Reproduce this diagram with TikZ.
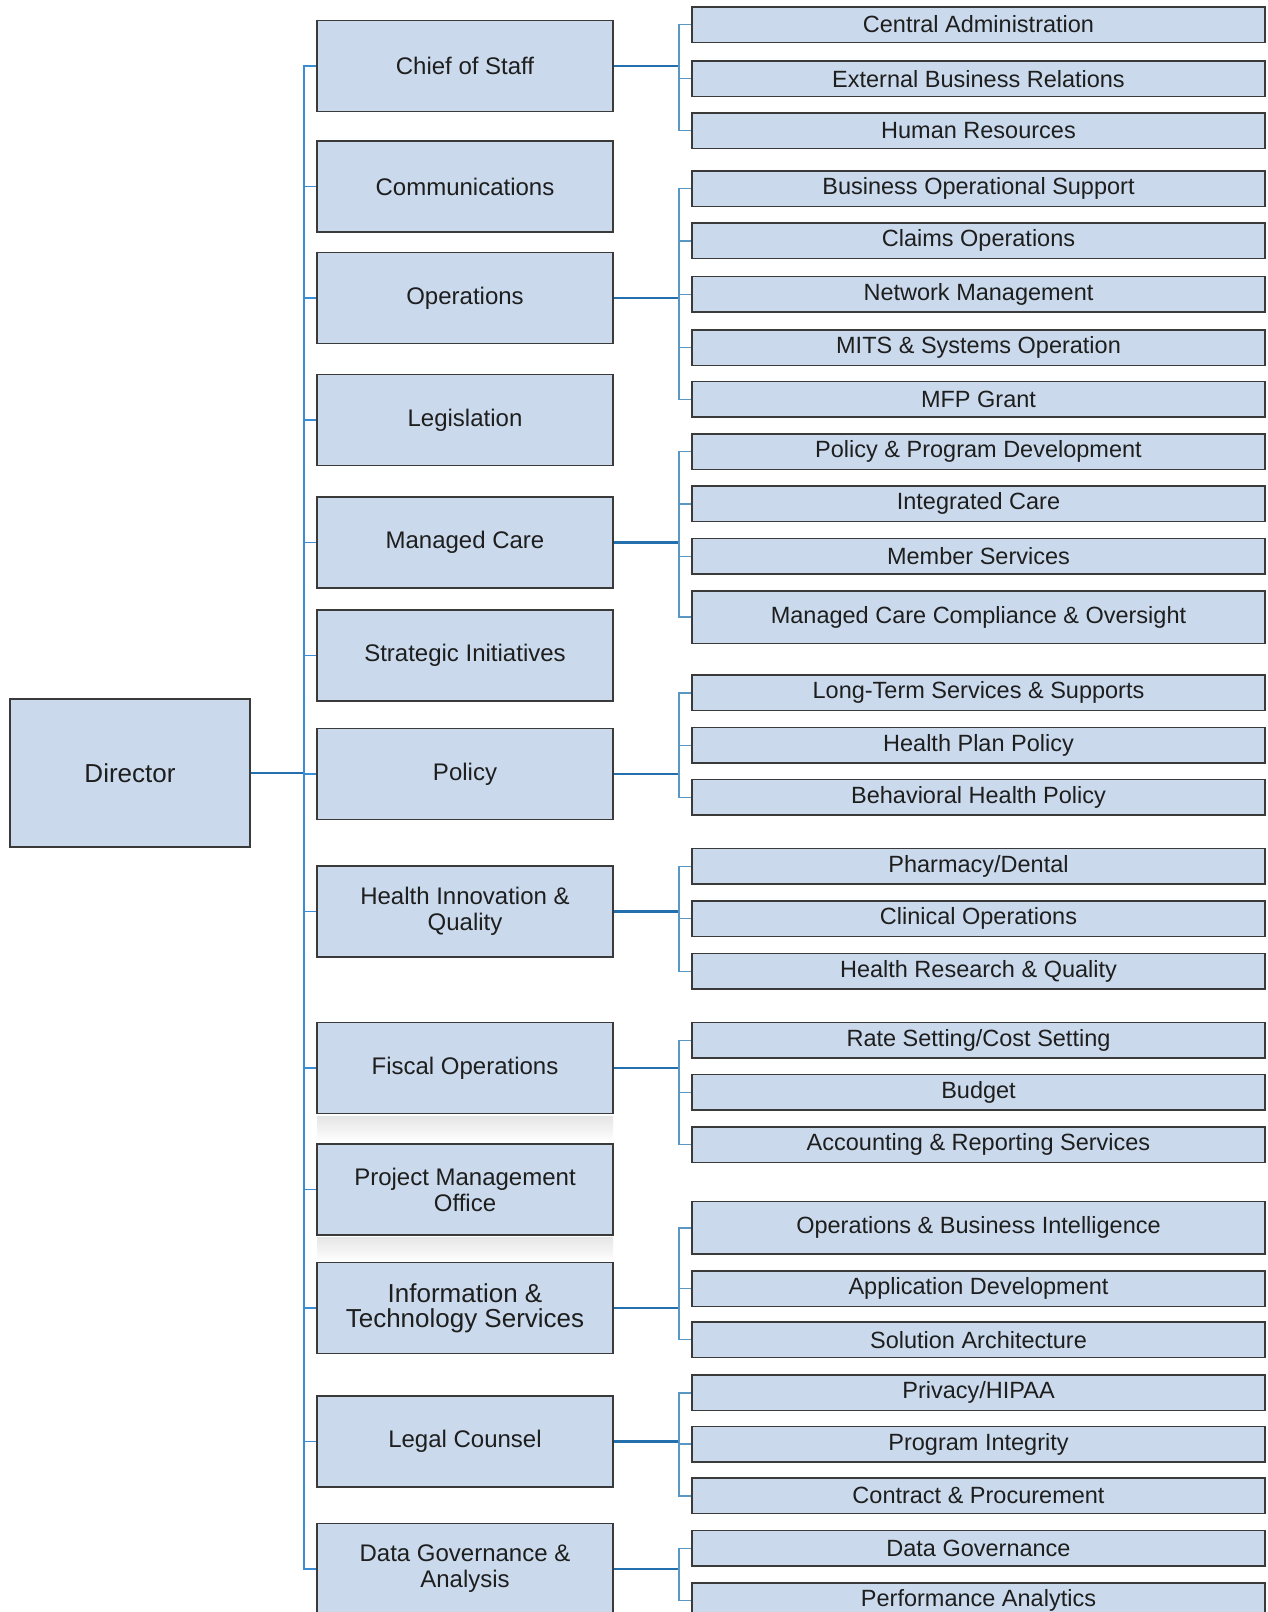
\documentclass[tikz,border=0pt]{standalone}
\usepackage{fontspec}
\setmainfont{Liberation Sans}
\usepackage{xcolor}
\usepackage{tikz}

\definecolor{boxfill}{HTML}{CADAEC}
\definecolor{boxline}{HTML}{3A3A3A}
\definecolor{boxtext}{HTML}{1E1E1E}
\definecolor{linkmain}{HTML}{2470AE}
\definecolor{linkspine}{HTML}{3A8DD3}
\definecolor{linksub}{HTML}{5B97C4}

\begin{document}
\begin{tikzpicture}[
    x=1pt, y=-1pt,
    head_box/.style={draw=boxline, fill=boxfill, line width=1.5pt, inner sep=0pt,
        minimum width=240pt, minimum height=148pt, text=boxtext,
        font=\fontsize{26}{30}\selectfont},
    unit_box/.style={draw=boxline, fill=boxfill, line width=1.5pt, inner sep=0pt,
        minimum width=296pt, minimum height=91pt, text=boxtext, align=center,
        font=\fontsize{24}{26}\selectfont},
    sub_box/.style={draw=boxline, fill=boxfill, line width=1.5pt, inner sep=0pt,
        minimum width=573pt, minimum height=35.5pt, text=boxtext,
        font=\fontsize{23.5}{26}\selectfont},
    main_link/.style={draw=linkmain, line width=2.2pt},
    spine_link/.style={draw=linkspine, line width=1.8pt},
    sub_link/.style={draw=linksub, line width=1.4pt}
]
    \useasboundingbox (0,0) rectangle (1267,1612);

    % faint shadows under the fiscal and project boxes
    \shade[top color=black!10, bottom color=white] (317,1116) rectangle (613,1142);
    \shade[top color=black!10, bottom color=white] (317,1237) rectangle (613,1262);

    % --- Nodes ---
    \node[head_box] (dir) at (130,773) {Director};

    % Units on the spine
    \node[unit_box] (chief) at (465,66) {Chief of Staff};
    \node[unit_box] (comms) at (465,186.5) {Communications};
    \node[unit_box] (ops) at (465,298) {Operations};
    \node[unit_box] (legis) at (465,420) {Legislation};
    \node[unit_box] (mcare) at (465,542.5) {Managed Care};
    \node[unit_box] (strat) at (465,655.5) {Strategic Initiatives};
    \node[unit_box] (policy) at (465,774) {Policy};
    \node[unit_box] (hiq) at (465,911.5) {Health Innovation \&\\Quality};
    \node[unit_box] (fiscal) at (465,1068) {Fiscal Operations};
    \node[unit_box] (pmo) at (465,1189.5) {Project Management\\Office};
    \node[unit_box, font=\fontsize{26}{25}\selectfont] (its) at (465,1308) {Information \&\\Technology Services};
    \node[unit_box] (legal) at (465,1441.5) {Legal Counsel};
    \node[unit_box] (dga) at (465,1569) {Data Governance \&\\Analysis};

    % Chief of Staff group
    \node[sub_box] (ca) at (978.5,24.5) {Central Administration};
    \node[sub_box] (ebr) at (978.5,78.7) {External Business Relations};
    \node[sub_box] (hr) at (978.5,130.5) {Human Resources};

    % Operations group
    \node[sub_box] (bos) at (978.5,188.7) {Business Operational Support};
    \node[sub_box] (claims) at (978.5,240.8) {Claims Operations};
    \node[sub_box] (netm) at (978.5,294.2) {Network Management};
    \node[sub_box] (mits) at (978.5,347.5) {MITS \& Systems Operation};
    \node[sub_box] (mfp) at (978.5,399.2) {MFP Grant};

    % Managed Care group
    \node[sub_box] (ppd) at (978.5,451.7) {Policy \& Program Development};
    \node[sub_box] (ic) at (978.5,503.9) {Integrated Care};
    \node[sub_box] (ms) at (978.5,556.3) {Member Services};
    \node[sub_box, minimum height=52.5pt] (mcco) at (978.5,617) {Managed Care Compliance \& Oversight};

    % Policy group
    \node[sub_box] (ltss) at (978.5,692.9) {Long-Term Services \& Supports};
    \node[sub_box] (hpp) at (978.5,745.4) {Health Plan Policy};
    \node[sub_box] (bhp) at (978.5,797.2) {Behavioral Health Policy};

    % Health Innovation group
    \node[sub_box] (pharm) at (978.5,866.2) {Pharmacy/Dental};
    \node[sub_box] (clin) at (978.5,918.7) {Clinical Operations};
    \node[sub_box] (hrq) at (978.5,971.2) {Health Research \& Quality};

    % Fiscal group
    \node[sub_box] (rate) at (978.5,1040.2) {Rate Setting/Cost Setting};
    \node[sub_box] (budget) at (978.5,1092.4) {Budget};
    \node[sub_box] (acct) at (978.5,1144.5) {Accounting \& Reporting Services};

    % IT group
    \node[sub_box, minimum height=52.5pt] (obi) at (978.5,1227.9) {Operations \& Business Intelligence};
    \node[sub_box] (appdev) at (978.5,1288.7) {Application Development};
    \node[sub_box] (sol) at (978.5,1339.7) {Solution Architecture};

    % Legal group
    \node[sub_box] (priv) at (978.5,1392.9) {Privacy/HIPAA};
    \node[sub_box] (pint) at (978.5,1444) {Program Integrity};
    \node[sub_box] (contr) at (978.5,1495.8) {Contract \& Procurement};

    % Data group
    \node[sub_box] (dgov) at (978.5,1548.4) {Data Governance};
    \node[sub_box] (perf) at (978.5,1600.5) {Performance Analytics};

    % --- Junction points ---
    \coordinate (hub) at (304,773);
    \coordinate (j_chief) at (679,66);
    \coordinate (j_ops) at (679,298);
    \coordinate (j_mcare) at (679,542.5);
    \coordinate (j_policy) at (679,774);
    \coordinate (j_hiq) at (679,911.5);
    \coordinate (j_fiscal) at (679,1068);
    \coordinate (j_its) at (679,1308);
    \coordinate (j_legal) at (679,1441.5);
    \coordinate (j_dga) at (679,1569);

    % --- Edges: Director to spine ---
    \draw[main_link] (dir) -- (hub);
    \draw[spine_link] (hub) |- (chief);
    \draw[spine_link] (hub) |- (comms);
    \draw[spine_link] (hub) |- (ops);
    \draw[spine_link] (hub) |- (legis);
    \draw[spine_link] (hub) |- (mcare);
    \draw[spine_link] (hub) |- (strat);
    \draw[spine_link] (hub) |- (policy);
    \draw[spine_link] (hub) |- (hiq);
    \draw[spine_link] (hub) |- (fiscal);
    \draw[spine_link] (hub) |- (pmo);
    \draw[spine_link] (hub) |- (its);
    \draw[spine_link] (hub) |- (legal);
    \draw[spine_link] (hub) |- (dga);

    % --- Edges: units to their sections ---
    \draw[main_link] (chief) -- (j_chief);
    \draw[sub_link] (j_chief) |- (ca);
    \draw[sub_link] (j_chief) |- (ebr);
    \draw[sub_link] (j_chief) |- (hr);

    \draw[main_link] (ops) -- (j_ops);
    \draw[sub_link] (j_ops) |- (bos);
    \draw[sub_link] (j_ops) |- (claims);
    \draw[sub_link] (j_ops) |- (netm);
    \draw[sub_link] (j_ops) |- (mits);
    \draw[sub_link] (j_ops) |- (mfp);

    \draw[main_link] (mcare) -- (j_mcare);
    \draw[sub_link] (j_mcare) |- (ppd);
    \draw[sub_link] (j_mcare) |- (ic);
    \draw[sub_link] (j_mcare) |- (ms);
    \draw[sub_link] (j_mcare) |- (mcco);

    \draw[main_link] (policy) -- (j_policy);
    \draw[sub_link] (j_policy) |- (ltss);
    \draw[sub_link] (j_policy) |- (hpp);
    \draw[sub_link] (j_policy) |- (bhp);

    \draw[main_link] (hiq) -- (j_hiq);
    \draw[sub_link] (j_hiq) |- (pharm);
    \draw[sub_link] (j_hiq) |- (clin);
    \draw[sub_link] (j_hiq) |- (hrq);

    \draw[main_link] (fiscal) -- (j_fiscal);
    \draw[sub_link] (j_fiscal) |- (rate);
    \draw[sub_link] (j_fiscal) |- (budget);
    \draw[sub_link] (j_fiscal) |- (acct);

    \draw[main_link] (its) -- (j_its);
    \draw[sub_link] (j_its) |- (obi);
    \draw[sub_link] (j_its) |- (appdev);
    \draw[sub_link] (j_its) |- (sol);

    \draw[main_link] (legal) -- (j_legal);
    \draw[sub_link] (j_legal) |- (priv);
    \draw[sub_link] (j_legal) |- (pint);
    \draw[sub_link] (j_legal) |- (contr);

    \draw[main_link] (dga) -- (j_dga);
    \draw[sub_link] (j_dga) |- (dgov);
    \draw[sub_link] (j_dga) |- (perf);

\end{tikzpicture}
\end{document}
